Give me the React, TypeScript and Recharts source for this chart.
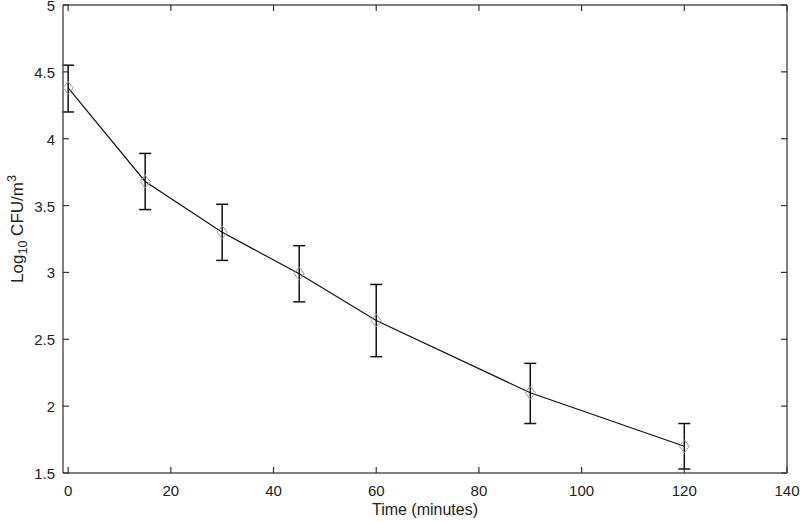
import { ComposedChart, Line, XAxis, YAxis, ErrorBar } from 'recharts';

const times = [0, 15, 30, 45, 60, 90, 120];
const means = [4.38, 3.68, 3.3, 2.99, 2.64, 2.1, 1.7];
const upper = [4.55, 3.89, 3.51, 3.2, 2.91, 2.32, 1.87];
const lower = [4.2, 3.47, 3.09, 2.78, 2.37, 1.87, 1.53];

const xTicks = [0, 20, 40, 60, 80, 100, 120, 140];
const yTicks = [1.5, 2, 2.5, 3, 3.5, 4, 4.5, 5];
const xDomain = [-1, 140];
const yDomain = [1.5, 5];

const data = times.map((t, i) => ({
  t,
  y: means[i],
  err: [means[i] - lower[i], upper[i] - means[i]],
}));

const FONT = '"Liberation Sans", Arial, sans-serif';
const AXIS = '#555';
const TICK = '#333';
const TL = 6;

function BottomTick({ x, y, payload }: any) {
  return (
    <g>
      <line x1={x} x2={x} y1={y} y2={y - TL} stroke={TICK} strokeWidth={1.2} />
      <text x={x} y={y + 23} textAnchor="middle" fontSize={15} fontFamily={FONT} fill="#222">
        {payload.value}
      </text>
    </g>
  );
}

function TopTick({ x, y }: any) {
  return <line x1={x} x2={x} y1={y} y2={y + TL} stroke={TICK} strokeWidth={1.2} />;
}

function LeftTick({ x, y, payload }: any) {
  return (
    <g>
      <line x1={x} x2={x + TL} y1={y} y2={y} stroke={TICK} strokeWidth={1.2} />
      <text x={x - 8} y={y} dy="0.4em" textAnchor="end" fontSize={15} fontFamily={FONT} fill="#222">
        {payload.value}
      </text>
    </g>
  );
}

function RightTick({ x, y }: any) {
  return <line x1={x} x2={x - TL} y1={y} y2={y} stroke={TICK} strokeWidth={1.2} />;
}

function Diamond({ cx, cy }: any) {
  if (cx == null || cy == null) return null;
  const pts = `${cx},${cy - 6.5} ${cx + 5},${cy} ${cx},${cy + 6.5} ${cx - 5},${cy}`;
  return <polygon points={pts} fill="none" stroke="#999" strokeWidth={1} />;
}

function YLabel({ viewBox }: any) {
  const cx = 17;
  const cy = viewBox.y + viewBox.height / 2 - 10;
  return (
    <text
      x={cx}
      y={cy}
      transform={`rotate(-90 ${cx} ${cy})`}
      textAnchor="middle"
      fontSize={17}
      fontFamily={FONT}
      fill="#222"
      dy="0.36em"
    >
      Log
      <tspan fontSize={12.5} dy={4}>10</tspan>
      <tspan dy={-4}>{'  CFU/m'}</tspan>
      <tspan fontSize={12.5} dy={-7}>3</tspan>
    </text>
  );
}

function XLabel() {
  return (
    <text x={425} y={515} textAnchor="middle" fontSize={16} fontFamily={FONT} fill="#222">
      Time (minutes)
    </text>
  );
}

export default function App() {
  return (
    <div style={{ position: 'absolute', left: 0, top: 0, width: 800, height: 522, background: '#fff' }}>
      <ComposedChart
        width={800}
        height={522}
        data={data}
        margin={{ top: 4, right: 12, bottom: 0, left: 0 }}
      >
        <XAxis
          dataKey="t"
          type="number"
          domain={xDomain}
          allowDataOverflow
          ticks={xTicks}
          height={49}
          tickSize={0}
          tickMargin={0}
          tickLine={false}
          axisLine={{ stroke: AXIS, strokeWidth: 1.5 }}
          tick={<BottomTick />}
          interval={0}
          label={<XLabel />}
        />
        <XAxis
          xAxisId="top"
          dataKey="t"
          orientation="top"
          type="number"
          domain={xDomain}
          allowDataOverflow
          ticks={xTicks}
          height={1}
          tickSize={0}
          tickMargin={0}
          tickLine={false}
          axisLine={{ stroke: AXIS, strokeWidth: 1.5 }}
          tick={<TopTick />}
          interval={0}
        />
        <YAxis
          type="number"
          domain={yDomain}
          allowDataOverflow
          ticks={yTicks}
          width={63}
          tickSize={0}
          tickMargin={0}
          tickLine={false}
          axisLine={{ stroke: AXIS, strokeWidth: 1.5 }}
          tick={<LeftTick />}
          interval={0}
          label={<YLabel />}
        />
        <YAxis
          yAxisId="right"
          orientation="right"
          type="number"
          domain={yDomain}
          allowDataOverflow
          ticks={yTicks}
          width={1}
          tickSize={0}
          tickMargin={0}
          tickLine={false}
          axisLine={{ stroke: AXIS, strokeWidth: 1.5 }}
          tick={<RightTick />}
          interval={0}
        />
        {/* invisible series so the mirror axes get a scale */}
        <Line
          xAxisId="top"
          yAxisId="right"
          dataKey="y"
          stroke="none"
          dot={false}
          activeDot={false}
          legendType="none"
          isAnimationActive={false}
        />
        <Line
          dataKey="y"
          stroke="#111"
          strokeWidth={1.2}
          dot={<Diamond />}
          activeDot={false}
          isAnimationActive={false}
        >
          <ErrorBar dataKey="err" direction="y" width={6} stroke="#111" strokeWidth={1.5} isAnimationActive={false} />
        </Line>
      </ComposedChart>
    </div>
  );
}
